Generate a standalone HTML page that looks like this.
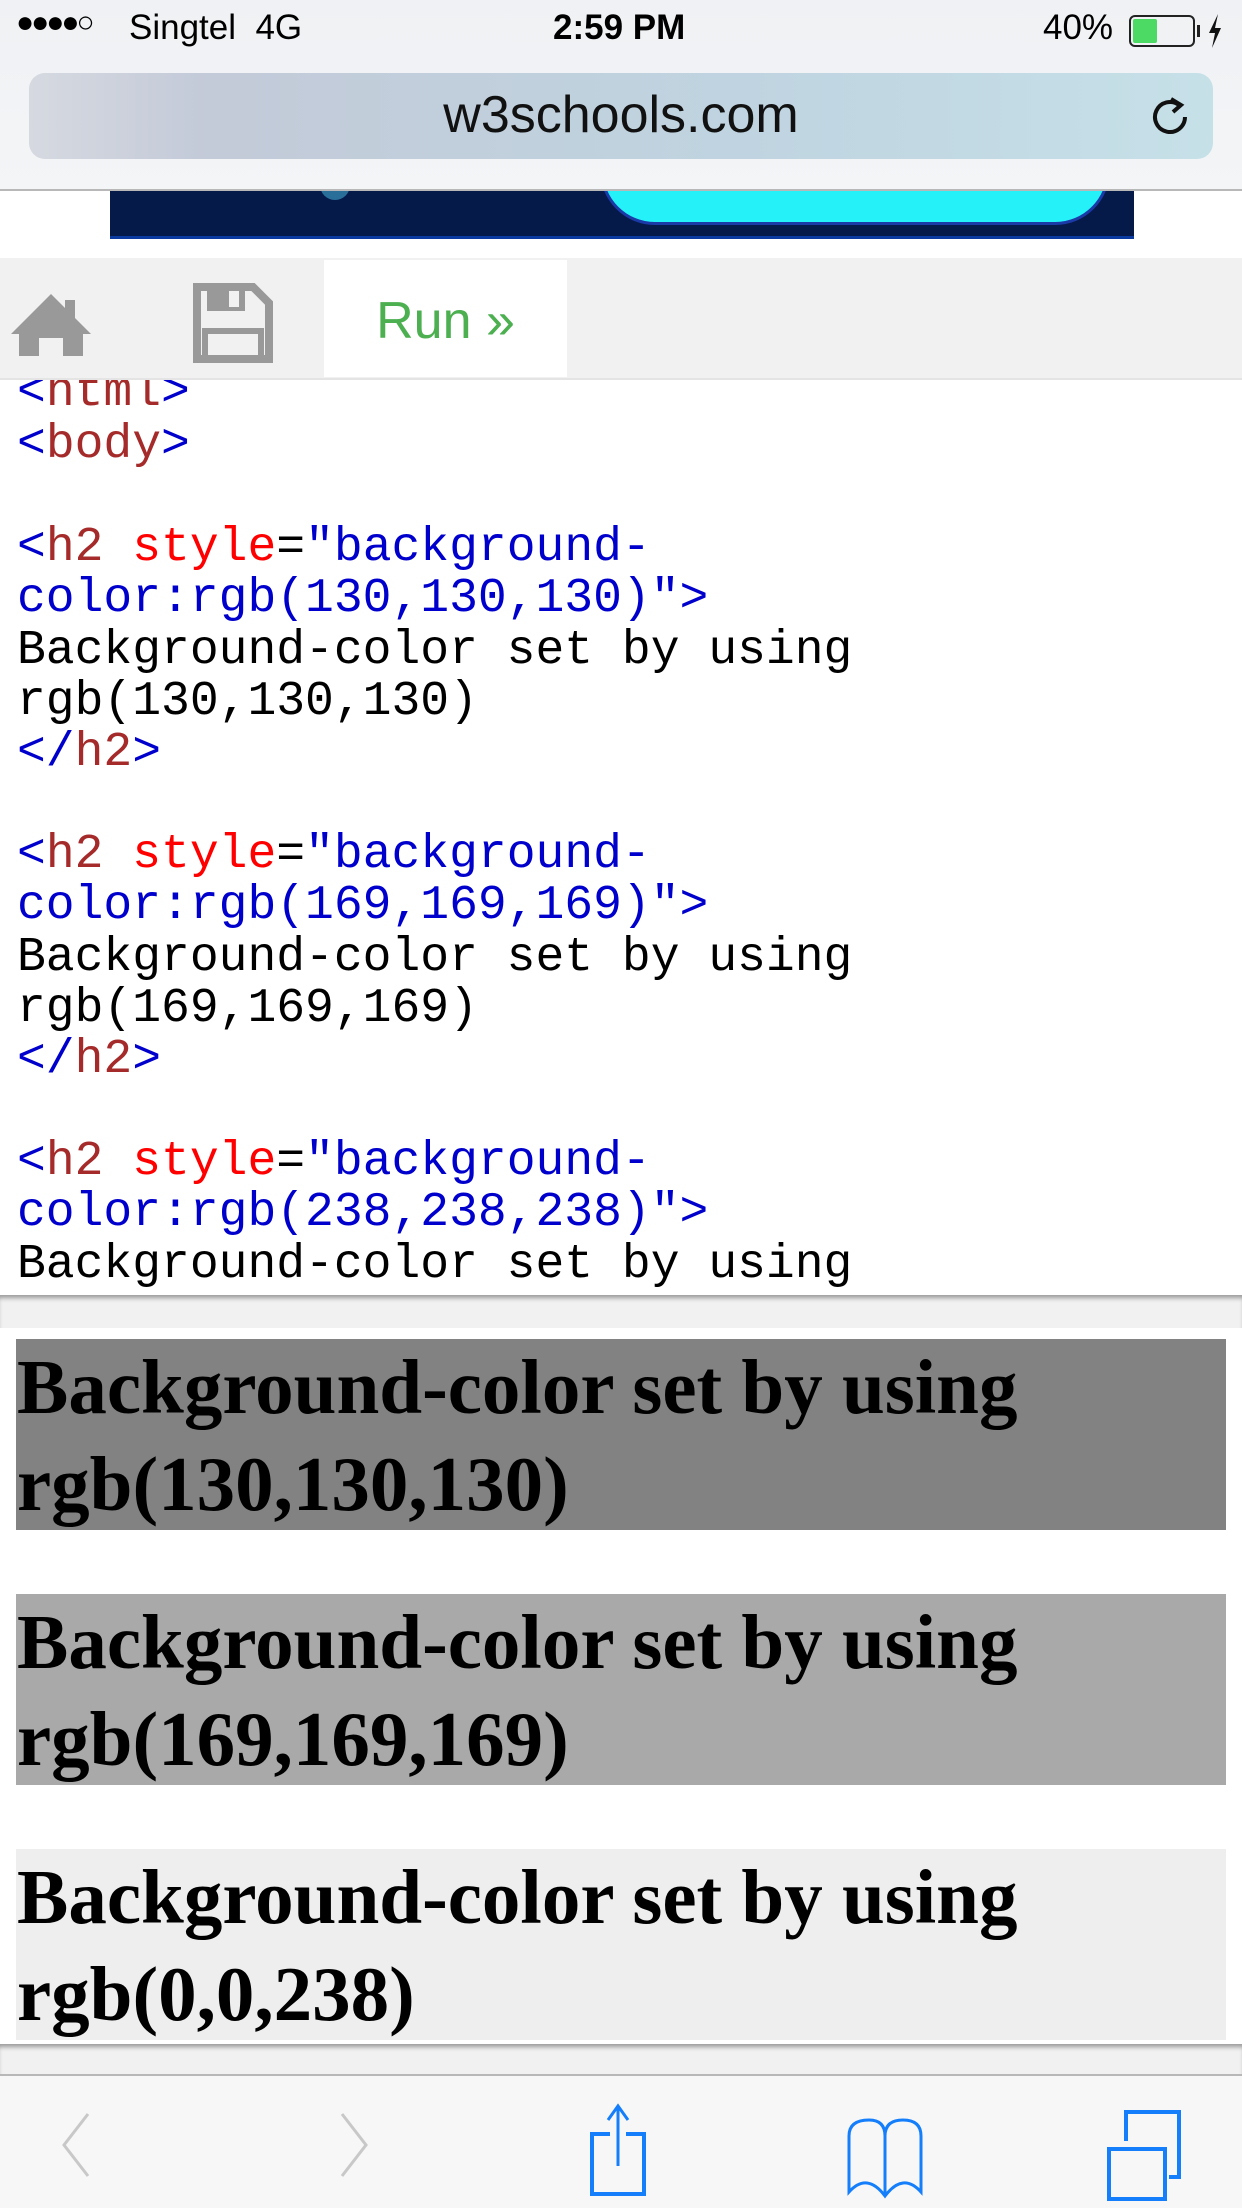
<!DOCTYPE html>
<html><head><meta charset="utf-8"><style>
*{margin:0;padding:0;box-sizing:border-box}
html,body{width:1242px;height:2208px;overflow:hidden;background:#fff;position:relative;font-family:"Liberation Sans",sans-serif}
.abs{position:absolute}
#hdr{left:0;top:0;width:1242px;height:191px;background:linear-gradient(#eff1f4,#f3f5f7);border-bottom:2px solid #b8b8b8;z-index:3}
.st{font-size:35px;top:8px;color:#000}
#url{left:29px;top:73px;width:1184px;height:86px;border-radius:16px;background:linear-gradient(90deg,#d6d9e0 0%,#c3cad8 15%,#bfd4e0 60%,#c6e0e8 100%)}
#url span{position:absolute;left:0;width:100%;text-align:center;top:12px;font-size:52px;color:#111}
#ad{left:110px;top:180px;width:1024px;height:59px;background:#061a4a;border-bottom:3px solid #0a3aa0}
#tb{left:0;top:258px;width:1242px;height:122px;background:#f1f1f1;border-bottom:2px solid #e4e4e4}
#run{left:324px;top:260px;width:243px;height:117px;background:#fff;color:#4caf50;font-size:52px;text-align:center;line-height:122px}
#code{left:0;top:380px;width:1242px;height:915px;overflow:hidden;font-family:"Liberation Mono",monospace;font-size:48px;line-height:51.2px;white-space:pre}
#code div{position:absolute;left:17px}
.b{color:#0000cd}.t{color:#a52a2a}.r{color:#ff0000}.k{color:#000}
#gap{left:0;top:1295px;width:1242px;height:33px;background:#f1f1f1;box-shadow:inset 0 5px 5px -2px #999}
.h2{position:absolute;left:16px;width:1210px;height:191px;font-family:"Liberation Serif",serif;font-weight:bold;font-size:77px;line-height:97px;color:#000;padding-left:1px;white-space:nowrap;overflow:hidden}
#bgap{left:0;top:2044px;width:1242px;height:30px;background:#f1f1f1;box-shadow:inset 0 5px 5px -2px #999}
#bot{left:0;top:2074px;width:1242px;height:134px;background:#f7f7f7;border-top:2px solid #b8b8b8}
</style></head><body>
<div id="hdr" class="abs">
  <div class="abs st" style="left:16px;top:6px;font-size:30px;letter-spacing:-3px">●●●●○</div>
  <div class="abs st" style="left:129px">Singtel&nbsp;&nbsp;4G</div>
  <div class="abs st" style="left:553px;font-weight:bold">2:59 PM</div>
  <div class="abs st" style="left:1043px">40%</div>
  <div class="abs" style="left:1129px;top:15px;width:66px;height:32px;border:2px solid #222;border-radius:6px"><div style="margin:2px;width:24px;height:24px;background:#4cd964;border-radius:2px"></div></div>
  <div class="abs" style="left:1197px;top:25px;width:3px;height:12px;background:#222"></div>
  <svg class="abs" style="left:1206px;top:14px" width="18" height="34" viewBox="0 0 18 34"><path d="M12 0 L3 19 L9 19 L6 34 L15 14 L9 14 Z" fill="#111"/></svg>
  <div id="url" class="abs"><span>w3schools.com</span>
    <svg class="abs" style="left:1120px;top:22px" width="44" height="44" viewBox="0 0 44 44"><path d="M30 10 A15 15 0 1 0 36 22" fill="none" stroke="#111" stroke-width="4"/><path d="M22 4 L32 10 L24 17" fill="none" stroke="#111" stroke-width="4"/></svg>
  </div>
</div>
<div id="ad" class="abs">
  <div class="abs" style="left:490px;top:-10px;width:510px;height:55px;border-radius:0 0 60px 60px;background:#25f2f8;border:3px solid #1a3aa8;border-top:none"></div>
  <div class="abs" style="left:210px;top:0;width:30px;height:20px;border-radius:0 0 15px 15px;background:#2a6f9a"></div>
</div>
<div id="tb" class="abs"></div>
<svg class="abs" style="left:9px;top:290px" width="84" height="66" viewBox="0 0 84 66"><path d="M42 4 L82 44 L74 44 L74 66 L54 66 L54 48 L30 48 L30 66 L10 66 L10 44 L2 44 Z" fill="#999"/><rect x="56" y="10" width="10" height="20" fill="#999"/></svg>
<svg class="abs" style="left:193px;top:283px" width="80" height="80" viewBox="0 0 80 80"><path d="M4 4 L60 4 L76 20 L76 76 L4 76 Z" fill="none" stroke="#999" stroke-width="8"/><rect x="14" y="4" width="38" height="24" fill="#999"/><rect x="36" y="8" width="10" height="16" fill="#f1f1f1"/><rect x="12" y="48" width="56" height="28" fill="none" stroke="#999" stroke-width="6"/></svg>
<div id="run" class="abs">Run »</div>
<div id="code" class="abs">
<div style="top:-12px"><span class="b">&lt;</span><span class="t">html</span><span class="b">&gt;</span></div>
<div style="top:40px"><span class="b">&lt;</span><span class="t">body</span><span class="b">&gt;</span></div>
<div style="top:143px"><span class="b">&lt;</span><span class="t">h2</span> <span class="r">style</span><span class="k">=</span><span class="b">"background-</span></div>
<div style="top:194px"><span class="b">color:rgb(130,130,130)"&gt;</span></div>
<div style="top:246px" class="k">Background-color set by using</div>
<div style="top:297px" class="k">rgb(130,130,130)</div>
<div style="top:348px"><span class="b">&lt;/</span><span class="t">h2</span><span class="b">&gt;</span></div>
<div style="top:450px"><span class="b">&lt;</span><span class="t">h2</span> <span class="r">style</span><span class="k">=</span><span class="b">"background-</span></div>
<div style="top:501px"><span class="b">color:rgb(169,169,169)"&gt;</span></div>
<div style="top:553px" class="k">Background-color set by using</div>
<div style="top:604px" class="k">rgb(169,169,169)</div>
<div style="top:655px"><span class="b">&lt;/</span><span class="t">h2</span><span class="b">&gt;</span></div>
<div style="top:757px"><span class="b">&lt;</span><span class="t">h2</span> <span class="r">style</span><span class="k">=</span><span class="b">"background-</span></div>
<div style="top:808px"><span class="b">color:rgb(238,238,238)"&gt;</span></div>
<div style="top:860px" class="k">Background-color set by using</div>
</div>
<div id="gap" class="abs"></div>
<div class="h2" style="top:1339px;background:rgb(130,130,130)">Background-color set by using<br>rgb(130,130,130)</div>
<div class="h2" style="top:1594px;background:rgb(169,169,169)">Background-color set by using<br>rgb(169,169,169)</div>
<div class="h2" style="top:1849px;background:rgb(238,238,238)">Background-color set by using<br>rgb(0,0,238)</div>
<div id="bgap" class="abs"></div>
<div id="bot" class="abs">
<svg class="abs" style="left:60px;top:36px" width="32" height="66" viewBox="0 0 32 66"><path d="M28 2 L4 33 L28 64" fill="none" stroke="#c8c8c8" stroke-width="3"/></svg>
<svg class="abs" style="left:338px;top:36px" width="32" height="66" viewBox="0 0 32 66"><path d="M4 2 L28 33 L4 64" fill="none" stroke="#c8c8c8" stroke-width="3"/></svg>
<svg class="abs" style="left:588px;top:26px" width="60" height="96" viewBox="0 0 60 96"><path d="M22 32 L4 32 L4 92 L56 92 L56 32 L38 32" fill="none" stroke="#147efb" stroke-width="4"/><path d="M30 4 L30 64 M20 18 L30 4 L40 18" fill="none" stroke="#147efb" stroke-width="3"/></svg>
<svg class="abs" style="left:845px;top:40px" width="80" height="84" viewBox="0 0 80 84"><path d="M40 80 L40 20 Q40 4 24 4 Q4 4 4 20 L4 76 Q22 56 40 80 Q58 56 76 76 L76 20 Q76 4 58 4 Q40 4 40 20" fill="none" stroke="#147efb" stroke-width="3"/></svg>
<svg class="abs" style="left:1106px;top:33px" width="80" height="92" viewBox="0 0 80 92"><rect x="3" y="40" width="56" height="50" fill="none" stroke="#147efb" stroke-width="4"/><path d="M20 32 L20 3 L73 3 L73 68 L63 68" fill="none" stroke="#147efb" stroke-width="4"/></svg>
</div>
</body></html>
